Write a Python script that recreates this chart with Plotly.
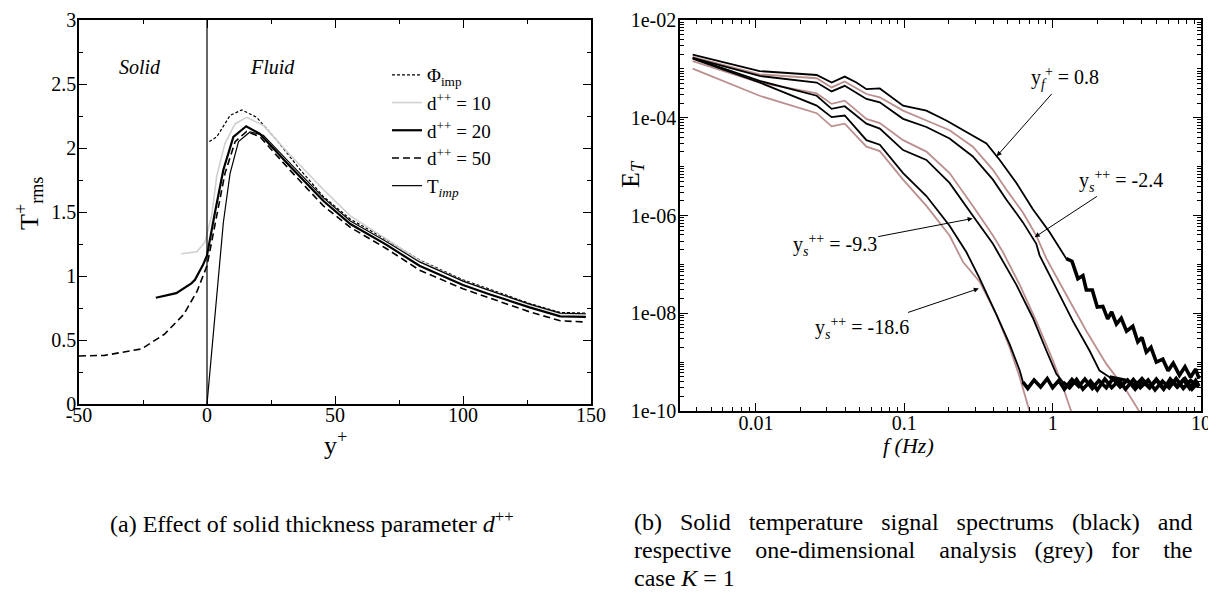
import math

import plotly.graph_objects as go

SERIF = "Liberation Serif"

# ---------------- panel (a): T+rms profiles across the solid/fluid interface ----------------
phi_y = [0.9, 3.8, 9.0, 13.6, 19.4, 27.3, 36.4, 45.5, 56, 70, 83, 100, 110, 126, 138, 148]
phi_t = [2.05, 2.087, 2.254, 2.298, 2.24, 2.06, 1.83, 1.62, 1.444, 1.285, 1.125, 0.97, 0.90, 0.785, 0.715, 0.71]

d10_y = [-10, -4, -0.8, 1.8, 3.8, 7, 11, 15.5, 22, 32.5, 45.5, 56, 70, 83, 100, 110, 126, 138, 148]
d10_t = [1.174, 1.19, 1.264, 1.47, 1.78, 2.035, 2.19, 2.24, 2.177, 1.945, 1.675, 1.47, 1.29, 1.12, 0.96, 0.89, 0.775, 0.705, 0.70]

d20_y = [-20, -12, -6.1, -4.7, -1.6, 0, 3.1, 6.4, 10.3, 15.3, 20.7, 32.5, 45.5, 56, 70, 83, 100, 110, 126, 138, 148]
d20_t = [0.83, 0.866, 0.943, 0.97, 1.085, 1.16, 1.496, 1.83, 2.087, 2.17, 2.11, 1.856, 1.586, 1.406, 1.245, 1.08, 0.93, 0.86, 0.755, 0.685, 0.68]

d50_y = [-50, -40, -25.6, -16.6, -9.1, -3.9, 0, 3.8, 7, 11, 15.5, 20.7, 32.5, 45.5, 56, 70, 83, 100, 110, 126, 138, 148]
d50_t = [0.375, 0.38, 0.43, 0.545, 0.70, 0.88, 1.08, 1.47, 1.80, 2.05, 2.13, 2.087, 1.825, 1.547, 1.38, 1.215, 1.046, 0.90, 0.83, 0.72, 0.65, 0.64]

timp_y = [0, 4.4, 6.4, 9, 12.3, 16.8, 22, 32.5, 45.5, 56, 70, 83, 100, 110, 126, 138, 148]
timp_t = [0, 0.956, 1.42, 1.80, 2.05, 2.125, 2.10, 1.88, 1.61, 1.43, 1.27, 1.11, 0.96, 0.89, 0.78, 0.71, 0.705]

# ---------------- panel (b): spectra E_T(f) ----------------
# black: solid temperature signal spectra ; grey: one-dimensional analysis
fA = [0.00375, 0.0106, 0.0257, 0.0324, 0.0397, 0.0476, 0.0556, 0.0617, 0.0684, 0.0982, 0.141, 0.192,
      0.276, 0.358, 0.44, 0.57, 0.736, 0.955, 1.236, 1.35, 1.48, 1.6, 1.687, 1.85, 2.0, 2.18, 2.35,
      2.5, 2.69, 2.9, 3.15, 3.47, 3.75, 4.0, 4.28, 4.6, 5.0, 5.53, 6.0, 6.5, 7.16, 7.8, 8.5, 9.2, 9.7]
EA = [1.96e-3, 9.0e-4, 7.5e-4, 5.26e-4, 6.95e-4, 5.26e-4, 3.85e-4, 3.85e-4, 3.98e-4, 1.77e-4, 1.40e-4, 8.8e-5,
      4.75e-5, 2.98e-5, 1.37e-5, 4.64e-6, 1.34e-6, 4.54e-7, 1.31e-7, 1.16e-7, 5.1e-8, 5.9e-8, 3.0e-8, 3.0e-8,
      1.34e-8, 1.38e-8, 7.7e-9, 1.06e-8, 6.0e-9, 7.9e-9, 4.3e-9, 5.4e-9, 2.6e-9, 3.2e-9, 1.6e-9, 2.0e-9,
      1.0e-9, 1.15e-9, 6.7e-10, 9.5e-10, 5.4e-10, 8.0e-10, 4.9e-10, 7.2e-10, 4.6e-10]

fB = [0.00375, 0.0106, 0.0257, 0.0324, 0.0397, 0.0556, 0.0684, 0.0982, 0.141, 0.202, 0.29, 0.396, 0.487,
      0.631, 0.776, 0.817, 1.059, 1.37, 1.775, 2.07, 2.42, 3.13, 3.6, 4.0, 4.5, 5.0, 5.6, 6.2, 6.9, 7.6,
      8.4, 9.2, 9.7]
EB = [1.68e-3, 7.16e-4, 5.26e-4, 3.46e-4, 4.50e-4, 2.42e-4, 2.07e-4, 9.5e-5, 6.48e-5, 3.76e-5, 1.61e-5,
      5.41e-6, 2.13e-6, 7.23e-7, 2.63e-7, 1.53e-7, 3.24e-8, 6.89e-9, 1.71e-9, 6.73e-10, 4.93e-10, 4.23e-10,
      3.3e-10, 4.6e-10, 3.0e-10, 4.3e-10, 2.8e-10, 4.5e-10, 3.1e-10, 4.4e-10, 2.9e-10, 4.2e-10, 3.2e-10]

fC = [0.00375, 0.0106, 0.0257, 0.0324, 0.0397, 0.0501, 0.0556, 0.0684, 0.0982, 0.141, 0.202, 0.29, 0.396,
      0.57, 0.736, 0.908, 1.059, 1.173, 1.3, 1.45, 1.6, 1.8, 2.0, 2.25, 2.5, 2.8, 3.1, 3.5, 3.9, 4.4, 4.9,
      5.5, 6.1, 6.8, 7.6, 8.5, 9.6]
EC = [1.68e-3, 5.67e-4, 2.82e-4, 1.52e-4, 1.72e-4, 9.5e-5, 7.56e-5, 6.0e-5, 2.18e-5, 1.37e-5, 4.64e-6,
      9.9e-7, 2.63e-7, 3.80e-8, 8.0e-9, 1.71e-9, 5.78e-10, 3.91e-10, 3.0e-10, 4.4e-10, 2.8e-10, 4.1e-10,
      2.7e-10, 4.5e-10, 3.0e-10, 4.2e-10, 2.8e-10, 4.4e-10, 3.0e-10, 4.3e-10, 2.7e-10, 4.1e-10, 3.0e-10,
      4.6e-10, 2.9e-10, 4.2e-10, 3.1e-10]

fD = [0.00375, 0.0106, 0.0257, 0.0324, 0.0397, 0.0556, 0.0684, 0.0982, 0.141, 0.202, 0.262, 0.322, 0.418,
      0.513, 0.60, 0.631, 0.68, 0.75, 0.83, 0.92, 1.0, 1.1, 1.2, 1.35, 1.5, 1.65, 1.85, 2.05, 2.3, 2.55,
      2.85, 3.2, 3.6, 4.0, 4.5, 5.0, 5.6, 6.3, 7.0, 7.8, 8.7, 9.6]
ED = [1.61e-3, 5.26e-4, 1.77e-4, 1.03e-4, 1.11e-4, 3.48e-5, 2.8e-5, 7.39e-6, 2.50e-6, 6.19e-7, 1.79e-7,
      5.17e-8, 9.4e-9, 2.33e-9, 6.73e-10, 3.91e-10, 2.9e-10, 4.3e-10, 3.1e-10, 4.6e-10, 3.0e-10, 4.2e-10,
      2.8e-10, 4.4e-10, 3.2e-10, 4.5e-10, 2.9e-10, 4.2e-10, 3.0e-10, 4.6e-10, 3.1e-10, 4.3e-10, 2.8e-10,
      4.1e-10, 3.0e-10, 4.5e-10, 2.9e-10, 4.2e-10, 3.2e-10, 4.6e-10, 2.8e-10, 3.9e-10]

# frequency above which each black spectrum turns into a thick noisy band
noisy_from = [1.2, 2.4, 1.17, 0.63]

fGB = [0.00375, 0.0106, 0.0257, 0.0324, 0.0397, 0.0556, 0.0684, 0.0982, 0.141, 0.202, 0.29, 0.396, 0.487,
       0.631, 0.776, 0.908, 1.236, 1.687, 2.30, 3.13, 3.85]
EGB = [1.76e-3, 7.74e-4, 6.43e-4, 4.17e-4, 5.51e-4, 3.06e-4, 2.62e-4, 1.40e-4, 8.8e-5, 5.54e-5, 2.56e-5,
       8.6e-6, 3.40e-6, 1.15e-6, 3.89e-7, 1.31e-7, 2.39e-8, 4.33e-9, 9.2e-10, 2.65e-10, 9.7e-11]

fGC = [0.00375, 0.0106, 0.0257, 0.0324, 0.0397, 0.0501, 0.0556, 0.0684, 0.0982, 0.141, 0.202, 0.29, 0.396,
       0.462, 0.60, 0.776, 1.005, 1.173, 1.336]
EGC = [1.44e-3, 5.26e-4, 3.15e-4, 1.92e-4, 2.24e-4, 1.20e-4, 9.5e-5, 7.8e-5, 3.48e-5, 2.03e-5, 7.39e-6,
       1.57e-6, 3.89e-7, 1.79e-7, 3.80e-8, 6.89e-9, 1.07e-9, 3.10e-10, 9.7e-11]

fGD = [0.00375, 0.0106, 0.0257, 0.0324, 0.0397, 0.0556, 0.0684, 0.0982, 0.141, 0.202, 0.249, 0.322, 0.418,
       0.513, 0.60, 0.683, 0.70]
EGD = [1.01e-3, 2.82e-4, 1.24e-4, 6.67e-5, 7.56e-5, 2.56e-5, 2.08e-5, 5.41e-6, 1.57e-6, 3.89e-7, 1.12e-7,
       4.43e-8, 9.4e-9, 1.99e-9, 4.93e-10, 1.22e-10, 9.7e-11]

# annotation labels: (text, text position f/E, arrow head f/E)
spec_labels = [
    ("y<sub><i>f</i></sub><sup>+</sup> = 0.8", 1.22, 6.4e-4, 0.42, 1.63e-5),
    ("y<sub><i>s</i></sub><sup>++</sup> = -2.4", 2.87, 5.1e-6, 0.757, 3.6e-7),
    ("y<sub><i>s</i></sub><sup>++</sup> = -9.3", 0.034, 2.5e-7, 0.289, 8.7e-7),
    ("y<sub><i>s</i></sub><sup>++</sup> = -18.6", 0.052, 5.0e-9, 0.318, 3.2e-8),
]

# caption of panel (b): words per line and extra spaces after each word (justified text)
cap_b_words = [
    ["(b)", "Solid", "temperature", "signal", "spectrums", "(black)", "and"],
    ["respective", "one-dimensional", "analysis", "(grey)", "for", "the"],
    ["case", "<i>K</i>", "=", "1"],
]
cap_b_pad = [[2, 2, 2, 2, 2, 2], [3, 3, 2, 2, 3], [0, 0, 0]]

BLACK = "black"
GREY_B = "#bc8f8f"

# the page body adds an 8px margin, so the figure is laid out in page pixels shifted by it
OFF = 8
W, H = 1216 - OFF, 596 - OFF


def px(x):
    return (x - OFF) / W


def py(y):
    return 1 - (y - OFF) / H


fig = go.Figure()

# panel (a)
fig.add_trace(go.Scatter(x=phi_y, y=phi_t, mode="lines", name="Φ<sub>imp</sub>",
                         line=dict(color=BLACK, width=1.2, dash="3px,2px")))
fig.add_trace(go.Scatter(x=d10_y, y=d10_t, mode="lines", name="d<sup>++</sup> = 10",
                         line=dict(color="#d0d0d0", width=1.6)))
fig.add_trace(go.Scatter(x=d20_y, y=d20_t, mode="lines", name="d<sup>++</sup> = 20",
                         line=dict(color=BLACK, width=2.2)))
fig.add_trace(go.Scatter(x=d50_y, y=d50_t, mode="lines", name="d<sup>++</sup> = 50",
                         line=dict(color=BLACK, width=1.6, dash="7px,4px")))
fig.add_trace(go.Scatter(x=timp_y, y=timp_t, mode="lines", name="T<sub><i>imp</i></sub>",
                         line=dict(color=BLACK, width=1.2)))

# panel (b): grey under black
for f, e in [(fGB, EGB), (fGC, EGC), (fGD, EGD)]:
    fig.add_trace(go.Scatter(x=f, y=e, mode="lines", xaxis="x2", yaxis="y2", showlegend=False,
                             line=dict(color=GREY_B, width=1.8)))
for (f, e), f0 in zip([(fA, EA), (fB, EB), (fC, EC), (fD, ED)], noisy_from):
    fig.add_trace(go.Scatter(x=f, y=e, mode="lines", xaxis="x2", yaxis="y2", showlegend=False,
                             line=dict(color=BLACK, width=1.8)))
    # thicker overlay where the measured signal is noise dominated
    i0 = next(i for i, v in enumerate(f) if v >= f0)
    fig.add_trace(go.Scatter(x=f[i0:], y=e[i0:], mode="lines", xaxis="x2", yaxis="y2", showlegend=False,
                             line=dict(color=BLACK, width=3.6)))

fig.add_shape(type="line", xref="x", yref="y", x0=0, x1=0, y0=0, y1=3,
              line=dict(color=BLACK, width=1.2))

axis_common = dict(
    showline=True, linecolor=BLACK, linewidth=1.5, mirror="allticks",
    ticks="inside", ticklen=8, tickwidth=1.2, tickcolor=BLACK,
    showgrid=False, zeroline=False, automargin=False, ticklabeloverflow="allow",
    tickfont=dict(family=SERIF, size=20, color=BLACK),
)
minor_common = dict(ticks="inside", ticklen=4, tickwidth=1, tickcolor=BLACK, showgrid=False)

y2_major = [1e-2, 1e-4, 1e-6, 1e-8, 1e-10]
y2_minor = [m * 10.0 ** k for k in range(-10, -2) for m in range(1, 10) if not (m == 1 and k % 2 == 0)]

TOP = 20

fig.update_layout(
    template="none",
    width=W, height=H,
    margin=dict(l=0, r=0, t=0, b=0, pad=0, autoexpand=False),
    paper_bgcolor="white", plot_bgcolor="white",
    font=dict(family=SERIF, color=BLACK),
    xaxis=dict(domain=[px(79), px(591)], range=[-50, 150], anchor="y",
               tickvals=[-50, 0, 50, 100, 150], ticktext=["-50", "0", "50", "100", "150"],
               ticklabelstandoff=-8,
               minor=dict(dtick=25, **minor_common), **axis_common),
    yaxis=dict(domain=[py(404), py(TOP)], range=[0, 3], anchor="x",
               tickvals=[0, 0.5, 1, 1.5, 2, 2.5, 3], ticktext=["0", "0.5", "1", "1.5", "2", "2.5", "3"],
               ticklabelstandoff=-3,
               minor=dict(dtick=0.25, **minor_common), **axis_common),
    xaxis2=dict(type="log", domain=[px(680), px(1201)], range=[math.log10(0.00308), 1], anchor="y2",
                tickvals=[0.01, 0.1, 1, 10], ticktext=["0.01", "0.1", "1", "10"],
                ticklabelstandoff=-7,
                minor=dict(dtick="D1", **minor_common), **axis_common),
    yaxis2=dict(type="log", domain=[py(411), py(TOP)], range=[-10, -2], anchor="x2",
                tickvals=y2_major, ticktext=["1e-02", "1e-04", "1e-06", "1e-08", "1e-10"],
                ticklabelstandoff=-2,
                minor=dict(tickvals=y2_minor, **minor_common), **axis_common),
    legend=dict(x=px(387), y=py(56), xanchor="left", yanchor="top", bgcolor="rgba(0,0,0,0)",
                font=dict(family=SERIF, size=19, color=BLACK), tracegroupgap=0),
)


def page_text(x, y, text, size, angle=0, italic=False, xanchor="center"):
    return dict(x=px(x), y=py(y), xref="paper", yref="paper", xanchor=xanchor,
                yanchor="middle", textangle=angle, text=f"<i>{text}</i>" if italic else text,
                showarrow=False, font=dict(family=SERIF, size=size, color=BLACK))


ann = []
# region labels of panel (a)
ann.append(dict(x=-26, y=2.63, xref="x", yref="y", text="<i>Solid</i>", showarrow=False,
                xanchor="center", yanchor="middle", font=dict(family=SERIF, size=20)))
ann.append(dict(x=25.4, y=2.63, xref="x", yref="y", text="<i>Fluid</i>", showarrow=False,
                xanchor="center", yanchor="middle", font=dict(family=SERIF, size=20)))

for text, tf, te, hf, he in spec_labels:
    ann.append(dict(x=math.log10(hf), y=math.log10(he), xref="x2", yref="y2",
                    ax=math.log10(tf), ay=math.log10(te), axref="x2", ayref="y2",
                    xanchor="center", yanchor="middle",
                    text=text, showarrow=True, arrowhead=2, arrowsize=1, arrowwidth=1,
                    arrowcolor=BLACK, font=dict(family=SERIF, size=20)))

# axis titles
ann.append(page_text(29, 204, "T<sup>+</sup><sub>rms</sub>", 26, angle=-90))
ann.append(page_text(335, 443, "y<sup>+</sup>", 26))
ann.append(page_text(632, 174, "E<sub><i>T</i></sub>", 26, angle=-90))
ann.append(page_text(908, 445, "f (Hz)", 22, italic=True))

# captions
ann.append(page_text(312, 522, "(a) Effect of solid thickness parameter <i>d</i><sup>++</sup>", 24))
for i, (words, pads) in enumerate(zip(cap_b_words, cap_b_pad)):
    line = words[0]
    for w, n in zip(words[1:], pads):
        line += " " + "\u00a0" * n + w
    ann.append(page_text(632, 522 + 28 * i, line, 24, xanchor="left"))

fig.update_layout(annotations=ann)

fig.write_html("out.html")
